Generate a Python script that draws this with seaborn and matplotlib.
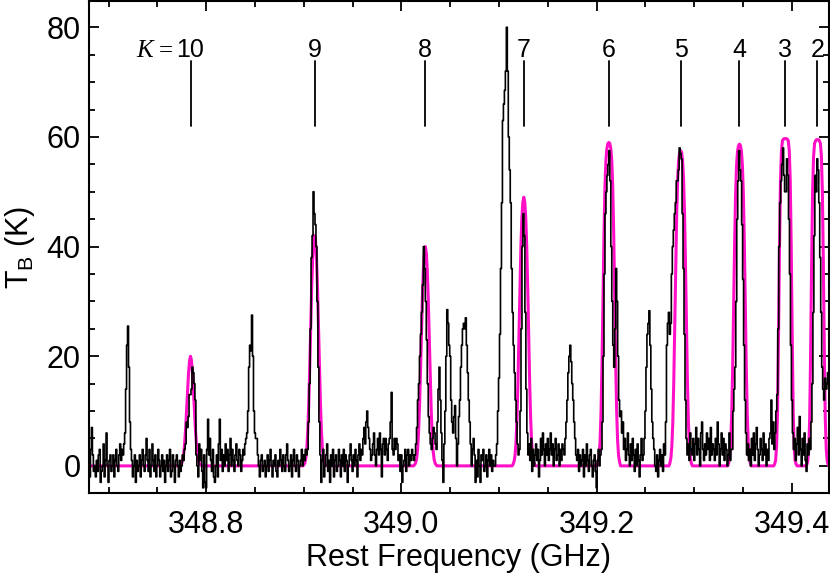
import numpy as np
import pandas as pd
import seaborn as sns
import matplotlib.pyplot as plt

f_start = 348.680
chan_width = 0.001
tb = [
    1, -2, 3, 7, 2, -1, 0, -2, 1, -1, 2, 3, -3, -1, 0, 4, -2, 1, 6, 0,            # 0
    -3, 1, 2, -1, 0, 2, -2, 1, 3, 0, -1, 2, 4, 1, 3, 2, 4, 6, 14, 22,            # 20
    25.5, 18, 8, 3, 1, -2, 0, 2, -3, 1, -1, 0, 2, -2, 1, 3, 0, -1, 2, 5,         # 40
    1, -1, 3, -2, 0, 4, 1, -1, 2, -2, 0, 3, 1, -2, 0, 2, -1, 1, -3, 0,           # 60
    2, -1, 1, 3, -2, -1, 2, 0, -3, 1, 2, 0, -2, 1, -1, 0, 2, 1, 3, 4,            # 80
    8, 7, 9, 13, 13, 14, 18, 17, 15, 12, 2, 0, -2, 4, 1, 3, -1, -4, 2, -3,       # 100
    -4, 3, 8.5, 2, 5, 1, -1, 3, -2, -3, 0, 2, -2, 4, 8.5, 1, 3, -1, 2, 0,        # 120
    4, 1, 3, -1, 2, 5, 0, 3, 1, -1, 2, 4, 1, 0, 3, 2, -1, 1, 3, 2,               # 140
    4, 5, 6, 10, 18, 22, 21, 27.5, 20, 10, 6, 5, 5, 2, 0, -2, 1, 2, -1, 0,       # 160
    1, -2, 0, 2, -1, 1, 3, 0, -2, 1, 0, 2, -1, -2, 1, 0, 3, 1, -1, 2,            # 180
    0, -1, 2, 4, 1, -1, 0, 2, -2, 1, 3, 0, -1, 2, 1, -2, 0, 1, 3, 0,             # 200
    2, 1, 3, 2, 3, 8, 15, 25, 38, 42, 50, 46, 44, 40, 30, 18, 8, 2, -3, 1,       # 220
    3, -2, 0, 2, 4, -1, 1, -3, 2, 0, 3, -2, 1, 2, -1, 0, 3, 1, -2, 2,            # 240
    0, 3, -1, 2, 1, -3, 0, 2, 4, 1, -1, 2, 0, 3, 1, -2, 2, 4, 1, 3,              # 260
    2, 5, 7, 4, 8, 10, 7, 5, 3, 1, 2, 4, 6, 2, 0, 3, 5, 2, 6, 3,                 # 280
    -2, 4, 5, 2, 5, 3, 1, 4, 5, 8, 13.4, 3, 2, 5, 3, 5, 4, 1, 2, -1,             # 300
    2, -3, 0, 1, 3, -1, 2, 3, 0, 2, 1, 3, 2, 1, 2, 4, 7, 12, 15, 20,             # 320
    24, 28, 33, 40, 36, 30, 23, 15, 9, 6, 4, 3, 5, 7, 6, 4, 3, 8, 14, 18,        # 340
    12, 6, 1, -3, 4, 10, 20, 28.5, 26, 22, 20, 12, 8, 6, 9, 11, 5, 0, 4, 9,      # 360
    12, 18, 22, 25, 26, 25, 27, 22, 17, 12, 8, 4, 0, 3, 5, 2, -3, 1, -2, 3,      # 380
    0, -3, 2, 1, 3, -1, 0, 2, -2, 1, 3, 0, 2, -1, 1, 0, 0, 2, 4, 10,             # 400
    16, 24, 36, 48, 63, 66, 68.5, 72, 80, 72, 60, 54, 48, 36, 28, 22, 17, 12, 8, 4,  # 420
    2, 3, 10, 25, 40, 46, 42, 28, 14, 6, 2, 4, 1, 5, -1, 3, 0, 2, 4, 1,          # 440
    3, -2, 1, 5, 2, 6, 3, 0, 4, 2, 5, 1, 3, 6, 2, 4, 0, 3, 5, 1,                 # 460
    2, 4, 0, 3, 1, 4, 3, 2, 5, 8, 12, 17, 20, 22, 19, 15, 12, 8, 5, 2,           # 480
    1, 3, -1, 2, 0, 1, 3, -2, 2, 0, 4, 1, -1, 2, 3, 0, -2, 1, 2, -1,             # 500
    -4, 1, 3, 0, 2, 3, 8, 20, 35, 46, 50, 53, 55, 57.5, 52, 40, 30, 22, 18, 25,  # 520
    36, 30, 20, 12, 9, 10, 6, 8, 3, 5, 1, 3, 6, 2, 0, 4, 1, 5, 2, -1,            # 540
    3, 0, 4, 1, -2, 2, 5, 1, 2, 5, 10, 18, 24, 26, 28.3, 22, 14, 8, 5, 3,        # 560
    0, -1, 2, -2, 1, 3, 0, 2, -1, 4, 2, 8, 22, 26, 28, 24, 26, 35, 40, 43,       # 580
    46, 48, 52, 52, 54, 58, 57, 56, 46, 36, 24, 12, 5, 2, 4, 1, 6, 3, 2, 5,      # 600
    1, 4, 7, 2, 5, 3, 0, 6, 8, 3, 1, 4, 2, 6, 3, 5, 1, 7, 2, 4,                  # 620
    3, 1, 5, 2, 8, 4, 0, 3, 6, 2, 5, 1, 4, 3, 0, 2, 6, 1, 3, 3,                  # 640
    10, 14, 18, 30, 45, 52, 57.5, 54, 52, 44, 34, 22, 12, 6, 2, 4, 1, 3, 0, 5,   # 660
    2, 6, 1, 4, 7, 3, 0, 2, 5, 3, 1, 6, 2, 4, 0, 3, 1, 5, 6, 12,                 # 680
    4, 8, 3, 6, 10, 13, 25, 40, 48, 52, 55, 58, 53, 50, 50, 56, 53, 45, 35, 22,  # 700
    12, 6, 3, 5, 1, 4, 7, 2, 9, 3, 0, 5, 2, 6, 1, -1, 4, 2, 5, 3,                # 720
    8, 15, 28, 42, 53, 50, 56, 54, 48, 38, 28, 18, 14, 12, 16, 14, 15, 17, 14,   # 740
]

# CH3CN K components: rest frequencies (GHz) and labels
k_labels = ["10", "9", "8", "7", "6", "5", "4", "3", "2"]
k_freqs = [348.7840, 348.9111, 349.0245, 349.1254, 349.2125,
           349.2860, 349.3463, 349.3933, 349.4262]

# model profile, read at 0..12 MHz from each line centre (symmetric)
model_offsets_mhz = list(range(13))
model_half = [
    [20.0, 19.2, 17.0, 13.8, 10.2, 6.8, 4.1, 2.2, 1.1, 0.5, 0.2, 0.1, 0.0],
    [42.0, 40.9, 37.7, 32.3, 25.4, 17.9, 11.3, 6.3, 3.1, 1.4, 0.5, 0.2, 0.0],
    [40.0, 38.9, 35.7, 30.5, 23.8, 16.7, 10.4, 5.8, 2.8, 1.2, 0.5, 0.2, 0.0],
    [49.0, 48.1, 45.2, 40.0, 32.5, 23.7, 15.3, 8.7, 4.3, 1.9, 0.8, 0.3, 0.0],
    [59.0, 58.8, 57.9, 55.7, 50.8, 42.2, 30.5, 18.8, 9.9, 4.5, 1.8, 0.7, 0.0],
    [57.5, 57.2, 55.7, 52.4, 46.1, 36.7, 25.5, 15.3, 7.9, 3.5, 1.4, 0.5, 0.0],
    [58.7, 58.4, 57.4, 54.8, 49.5, 40.5, 28.9, 17.7, 9.2, 4.2, 1.7, 0.6, 0.0],
    [59.7, 59.7, 59.6, 59.3, 57.5, 52.0, 40.0, 24.0, 10.0, 3.5, 1.0, 0.3, 0.0],
    [59.5, 59.5, 59.3, 58.8, 56.5, 50.0, 37.0, 21.0, 8.5, 3.0, 0.8, 0.2, 0.0],
]

# build tables
spec = pd.DataFrame({"freq": f_start + chan_width * np.arange(len(tb)), "tb": tb})

mx, my = [f_start], [0.0]
offs = [-o for o in model_offsets_mhz[::-1]] + model_offsets_mhz[1:]
for fc, half in zip(k_freqs, model_half):
    vals = half[::-1] + half[1:]
    mx += [fc + o * 0.001 for o in offs]
    my += vals
model = pd.DataFrame({"freq": mx, "tb": my})

sns.set_theme(style="ticks")
plt.rcParams["font.family"] = ["Liberation Sans", "DejaVu Sans"]
plt.rcParams["mathtext.fontset"] = "custom"
plt.rcParams["mathtext.rm"] = "Liberation Sans"
plt.rcParams["text.color"] = "black"
plt.rcParams["axes.labelcolor"] = "black"

fig = plt.figure(figsize=(8.3, 5.73), dpi=100)
ax = fig.add_axes([0.1072, 0.1391, 0.8916, 0.8592])

sns.lineplot(data=model, x="freq", y="tb", ax=ax, color="#ff0fc6", lw=2.2,
             estimator=None, sort=False, legend=False)
sns.lineplot(data=spec, x="freq", y="tb", ax=ax, color="black", lw=1.2,
             estimator=None, sort=False, legend=False, drawstyle="steps-mid")

# K markers
for fk, lab in zip(k_freqs, k_labels):
    ax.plot([fk, fk], [62, 73.8], color="black", lw=1.3)
    ax.text(fk, 74.5, lab, ha="center", va="baseline", fontsize=18, color="black")
ax.annotate("=", xy=(k_freqs[0], 74.5), xytext=(-12.5, 0), textcoords="offset points",
            ha="right", va="baseline", fontsize=18, family="Liberation Serif", color="black")
ax.annotate("K", xy=(k_freqs[0], 74.5), xytext=(-27, 0), textcoords="offset points",
            ha="right", va="baseline", fontsize=18, family="Liberation Serif",
            style="italic", color="black")

ax.set_xlim(348.680, 349.438)
ax.set_ylim(-4.8, 84.8)
ax.set_xticks([348.8, 349.0, 349.2, 349.4])
ax.set_xticklabels(["348.8", "349.0", "349.2", "349.4"])
ax.set_xticks(np.arange(348.70, 349.44, 0.05), minor=True)
ax.set_yticks([0, 20, 40, 60, 80])
ax.set_yticks(np.arange(-5, 85, 5), minor=True)
ax.tick_params(which="both", direction="in", top=True, right=True, width=1.3,
               labelsize=22, colors="black", labelcolor="black")
ax.tick_params(axis="x", which="major", length=7.5, pad=12)
ax.tick_params(axis="y", which="major", length=7.5, pad=6)
ax.tick_params(which="minor", length=4.5)
for s in ax.spines.values():
    s.set_linewidth(1.5)
    s.set_color("black")

ax.set_xlabel("Rest Frequency (GHz)", fontsize=22, labelpad=2)
ax.set_ylabel(r"T$_\mathregular{B}$ (K)", fontsize=22, labelpad=7)

fig.savefig("out.png", dpi=100)
